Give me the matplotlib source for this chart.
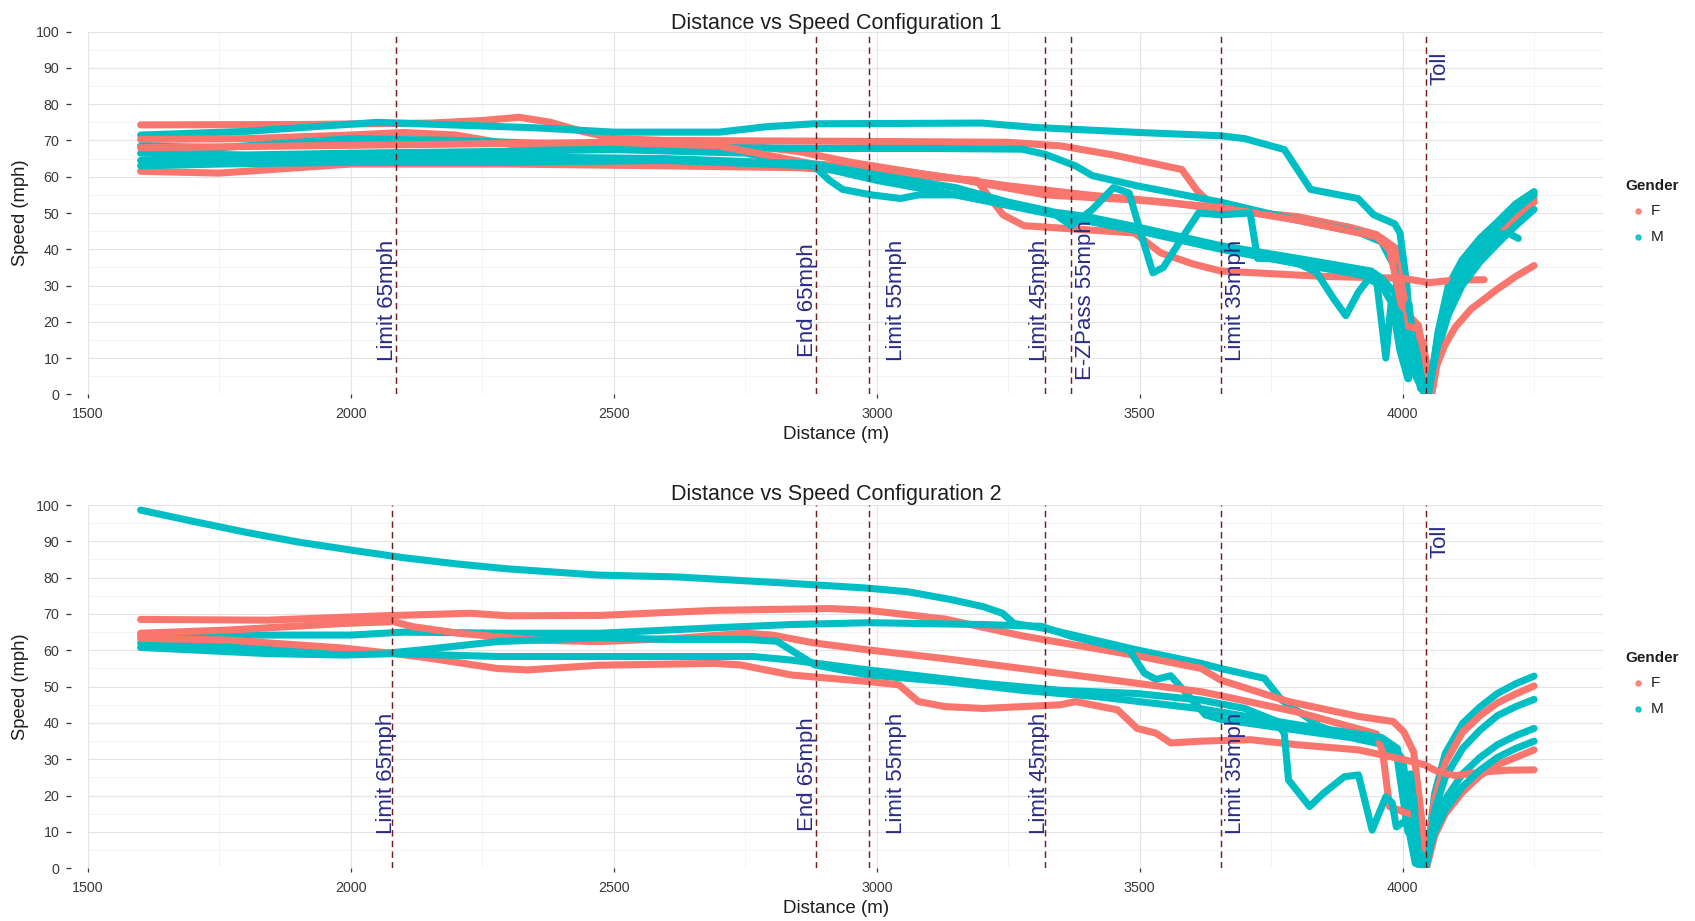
import matplotlib
matplotlib.use("Agg")
import matplotlib.pyplot as plt
from matplotlib.lines import Line2D

plt.rcParams['font.family'] = ['Liberation Sans', 'DejaVu Sans']

# ---------------------------------------------------------------------------
# Configuration 1 : distance (m) / speed (mph) per driver
# ---------------------------------------------------------------------------
C1_F1_DIST = [1600, 1900, 2150, 2250, 2320, 2380, 2440, 2500, 2600, 2900, 3250, 3350, 3450, 3580, 3610, 3640,
              3800, 3900, 3950, 3990, 4000, 4010, 4030, 4045, 4052, 4066, 4087, 4113, 4147, 4180, 4215, 4250]
C1_F1_SPEED = [74.3, 74.4, 74.8, 75.5, 76.4, 75.0, 72.5, 70.5, 70.0, 69.8, 69.5, 68.5, 66.0, 62.0, 56.0, 52.0,
               48.5, 46.0, 44.0, 40.0, 30.0, 22.0, 19.0, 5.0, 0.5, 14.0, 25.0, 33.0, 39.5, 44.5, 49.5, 54.0]

C1_F2_DIST = [1600, 1800, 2000, 2100, 2200, 2300, 2380, 2500, 2700, 2850, 2950, 3100, 3250, 3400, 3550, 3654,
              3800, 3900, 3950, 3970, 3990, 4005, 4020, 4040, 4050, 4066, 4087, 4113, 4147, 4180, 4215, 4250]
C1_F2_SPEED = [70.3, 70.5, 71.5, 72.2, 71.5, 69.0, 67.5, 68.5, 69.5, 67.0, 64.0, 60.5, 57.5, 55.0, 53.0, 51.0,
               49.0, 46.0, 44.0, 42.0, 36.0, 25.0, 18.0, 14.0, 1.0, 13.0, 24.0, 32.0, 38.5, 43.5, 48.5, 53.0]

C1_F3_DIST = [1600, 1750, 1900, 2000, 2300, 2600, 2850, 2950, 3100, 3190, 3240, 3280, 3490, 3540, 3600, 3654,
              3850, 4000, 4050, 4100, 4155]
C1_F3_SPEED = [61.5, 61.0, 62.5, 63.5, 63.5, 63.0, 62.5, 61.5, 60.0, 59.0, 49.5, 46.5, 44.5, 39.0, 36.0, 34.0,
               32.5, 32.0, 30.8, 31.5, 31.6]

C1_F4_DIST = [1600, 1900, 2200, 2500, 2700, 2880, 3000, 3150, 3320, 3500, 3654, 3800, 3900, 3950, 3975, 3990,
              4005, 4030, 4045, 4056, 4065, 4080, 4100, 4130, 4180, 4215, 4250]
C1_F4_SPEED = [68.0, 68.5, 69.0, 69.5, 68.5, 63.5, 62.5, 59.5, 55.0, 53.5, 51.5, 48.0, 45.0, 43.5, 40.0, 30.0,
               19.0, 18.0, 9.0, 0.5, 8.0, 13.5, 18.5, 23.5, 29.0, 32.5, 35.5]

C1_M1_DIST = [1600, 1800, 1950, 2050, 2150, 2350, 2500, 2700, 2790, 2880, 3200, 3300, 3500, 3654, 3700, 3775,
              3825, 3915, 3945, 3985, 3995, 4008, 4015, 4030, 4045, 4052, 4067, 4087, 4113, 4147, 4180, 4215, 4250]
C1_M1_SPEED = [71.5, 72.5, 74.0, 75.0, 74.5, 73.5, 72.3, 72.3, 73.8, 74.6, 74.8, 73.6, 72.2, 71.3, 70.5, 67.5,
               56.5, 54.0, 49.5, 47.0, 44.5, 30.0, 17.0, 12.0, 2.0, 0.5, 17.0, 30.0, 37.0, 43.0, 47.5, 52.5, 55.9]

C1_M2_DIST = [1600, 1750, 1900, 2000, 2200, 2400, 2500, 2700, 2880, 3100, 3276, 3320, 3378, 3410, 3495, 3654,
              3800, 3916, 3960, 3985, 3995, 4005, 4015, 4025, 4040, 4050, 4066, 4087, 4113, 4147, 4180, 4215, 4250]
C1_M2_SPEED = [68.5, 68.0, 69.5, 70.5, 70.0, 69.0, 68.3, 68.0, 67.8, 67.8, 67.6, 66.2, 63.0, 60.3, 57.5, 53.0,
               48.0, 44.7, 42.0, 35.0, 20.0, 12.0, 20.0, 5.0, 0.5, 0.5, 15.0, 27.0, 35.0, 41.5, 46.0, 51.0, 55.0]

C1_M3_DIST = [1600, 1800, 2000, 2300, 2500, 2750, 2880, 2910, 2935, 2990, 3045, 3080, 3150, 3300, 3400, 3500,
              3654, 3800, 3860, 3940, 3960, 3985, 3998, 4012, 4025, 4040, 4050, 4066, 4087, 4113, 4147, 4180,
              4215, 4250]
C1_M3_SPEED = [66.5, 66.0, 66.5, 67.0, 67.5, 66.5, 63.0, 59.0, 56.5, 55.0, 54.0, 55.0, 55.0, 51.0, 49.0, 46.0,
               41.0, 37.5, 36.0, 34.0, 32.0, 28.0, 12.0, 25.0, 8.0, 3.0, 0.5, 12.0, 22.0, 30.0, 36.5, 41.5,
               46.5, 51.0]

C1_M4_DIST = [1600, 1800, 2000, 2300, 2600, 2880, 3000, 3150, 3250, 3330, 3370, 3410, 3450, 3480, 3505, 3525,
              3545, 3580, 3612, 3654, 3710, 3724, 3783, 3836, 3869, 3892, 3916, 3935, 3960, 3980, 3995, 4010,
              4020, 4034, 4048, 4066, 4087, 4113, 4147, 4180, 4200, 4220]
C1_M4_SPEED = [64.5, 64.5, 65.0, 65.5, 65.0, 63.5, 60.5, 57.0, 53.0, 50.5, 46.5, 51.0, 57.0, 55.5, 43.0, 33.5,
               35.0, 43.0, 50.0, 49.5, 50.0, 37.5, 37.3, 33.7, 26.3, 21.7, 28.2, 31.8, 30.0, 25.0, 12.0, 4.3,
               15.0, 1.6, 0.5, 13.0, 24.0, 33.0, 39.5, 44.0, 44.5, 43.0]

C1_M5_DIST = [1600, 1750, 2000, 2300, 2600, 2880, 3000, 3150, 3320, 3500, 3654, 3800, 3900, 3950, 3968, 3978,
              3995, 4011, 4025, 4040, 4050, 4067, 4087, 4113, 4147, 4180, 4215, 4250]
C1_M5_SPEED = [63.0, 63.5, 64.0, 64.0, 64.5, 63.0, 59.0, 55.0, 50.0, 45.0, 40.0, 36.0, 33.5, 32.0, 10.0, 25.0,
               22.0, 4.3, 12.0, 2.0, 0.5, 16.0, 28.5, 36.0, 42.0, 46.5, 51.5, 55.5]

# ---------------------------------------------------------------------------
# Configuration 2
# ---------------------------------------------------------------------------
C2_F1_DIST = [1600, 1841, 2060, 2227, 2300, 2472, 2692, 2911, 2984, 3130, 3276, 3495, 3617, 3654, 3783, 3916,
              3982, 4002, 4021, 4035, 4044, 4061, 4081, 4114, 4147, 4180, 4215, 4250]
C2_F1_SPEED = [68.5, 68.3, 69.5, 70.2, 69.5, 69.6, 71.0, 71.5, 71.0, 68.6, 64.0, 58.5, 55.0, 51.8, 45.9, 41.8,
               40.4, 37.6, 32.0, 15.0, 0.9, 19.0, 29.0, 37.5, 42.0, 45.5, 48.0, 50.2]

C2_F2_DIST = [1600, 1769, 1987, 2081, 2118, 2205, 2350, 2472, 2619, 2750, 2801, 2882, 2984, 3130, 3276, 3422,
              3617, 3654, 3800, 3900, 3950, 3962, 3975, 4008, 4034, 4046, 4061, 4081, 4114, 4147, 4180, 4215, 4250]
C2_F2_SPEED = [64.7, 65.6, 67.4, 67.9, 66.5, 64.7, 62.8, 62.4, 63.3, 64.7, 64.2, 62.0, 60.1, 57.7, 55.0, 52.3,
               48.6, 47.5, 43.0, 39.0, 37.0, 32.0, 17.0, 15.2, 14.3, 0.5, 9.0, 15.0, 21.0, 25.5, 28.5, 30.5, 32.6]

C2_F3_DIST = [1600, 1769, 1987, 2081, 2132, 2278, 2336, 2472, 2692, 2740, 2838, 2984, 3042, 3079, 3130, 3203,
              3349, 3378, 3458, 3495, 3531, 3559, 3617, 3711, 3800, 3916, 4000, 4041, 4067, 4100, 4150, 4200, 4250]
C2_F3_SPEED = [63.3, 62.8, 60.6, 59.1, 58.2, 55.0, 54.6, 55.9, 56.4, 56.0, 53.2, 51.4, 50.5, 45.9, 44.5, 44.0,
               45.0, 45.9, 43.6, 38.5, 37.2, 34.5, 35.0, 35.4, 34.0, 32.6, 30.0, 28.5, 26.6, 25.5, 26.5, 27.0, 27.1]

C2_M1_DIST = [1600, 1700, 1800, 1900, 2000, 2100, 2200, 2300, 2472, 2620, 2840, 2984, 3060, 3140, 3203, 3239,
              3261, 3320, 3495, 3617, 3654, 3737, 3770, 3843, 3916, 3982, 4000, 4015, 4025, 4040, 4050, 4061,
              4081, 4114, 4147, 4180, 4215, 4250]
C2_M1_SPEED = [98.6, 95.5, 92.5, 89.8, 87.6, 85.5, 83.8, 82.4, 80.7, 80.2, 78.4, 77.1, 76.1, 74.0, 72.0, 70.2,
               67.4, 66.0, 60.1, 56.4, 55.0, 52.3, 46.3, 39.0, 35.5, 33.5, 30.0, 15.0, 1.5, 0.5, 8.0, 20.6,
               31.6, 39.9, 44.4, 48.1, 50.8, 52.9]

C2_M2_DIST = [1600, 1800, 2000, 2100, 2300, 2473, 2692, 2838, 2984, 3203, 3313, 3371, 3480, 3509, 3531, 3559,
              3625, 3654, 3800, 3900, 3960, 3990, 4010, 4020, 4035, 4045, 4061, 4081, 4114, 4147, 4180, 4215, 4250]
C2_M2_SPEED = [64.2, 64.2, 64.2, 65.0, 64.7, 64.7, 66.2, 67.1, 67.6, 67.1, 66.6, 63.8, 60.1, 53.7, 52.0, 53.0,
               42.2, 41.0, 38.0, 36.0, 34.5, 30.0, 10.0, 20.0, 2.0, 0.5, 16.0, 25.0, 33.0, 38.0, 42.0, 44.5, 46.5]

C2_M3_DIST = [1600, 1800, 1987, 2060, 2132, 2278, 2472, 2600, 2750, 2810, 2882, 2984, 3130, 3276, 3422, 3617,
              3654, 3800, 3960, 3990, 4005, 4015, 4030, 4045, 4061, 4081, 4114, 4147, 4180, 4215, 4250]
C2_M3_SPEED = [62.0, 61.2, 59.6, 59.1, 60.1, 62.4, 63.5, 63.0, 63.0, 62.5, 56.0, 53.2, 51.4, 49.0, 47.2, 43.9,
               43.0, 39.5, 36.0, 33.0, 20.0, 26.0, 5.0, 0.5, 12.0, 19.0, 26.0, 30.5, 34.0, 36.5, 38.5]

C2_M4_DIST = [1600, 1841, 1987, 2081, 2278, 2472, 2765, 2838, 2984, 3203, 3349, 3495, 3617, 3700, 3760, 3775,
              3783, 3823, 3849, 3889, 3916, 3942, 3968, 3980, 3988, 4008, 4024, 4040, 4061, 4081, 4114, 4147,
              4180, 4215, 4250]
C2_M4_SPEED = [60.8, 59.1, 58.7, 59.1, 58.3, 58.3, 58.3, 57.3, 54.6, 50.9, 49.0, 48.1, 46.3, 44.0, 40.5, 37.0,
               24.3, 17.0, 20.6, 25.2, 25.7, 10.5, 19.7, 18.0, 11.4, 13.3, 1.4, 0.5, 10.0, 16.0, 22.5, 27.0,
               30.5, 33.0, 35.0]

# ---------------------------------------------------------------------------
# Road signs along the route
# ---------------------------------------------------------------------------
C1_SIGN_DIST = [2085, 2885, 2985, 3320, 3369, 3654, 4044]
C1_SIGN_LABELS = ['Limit 65mph', 'End 65mph', 'Limit 55mph', 'Limit 45mph', 'E-ZPass 55mph', 'Limit 35mph', 'Toll']
C2_SIGN_DIST = [2079, 2885, 2985, 3320, 3654, 4044]
C2_SIGN_LABELS = ['Limit 65mph', 'End 65mph', 'Limit 55mph', 'Limit 45mph', 'Limit 35mph', 'Toll']

X_TICKS = [1500, 2000, 2500, 3000, 3500, 4000]
Y_TICKS = list(range(0, 101, 10))
GENDERS = ['F', 'M']

# ---------------------------------------------------------------------------
W, H, DPI = 1695, 921, 100
COLORS = {'F': '#F8766D', 'M': '#00BFC4'}
SIGN_COLOR = '#761C1C'
LABEL_COLOR = '#2A2A8A'
TEXT_DARK = '#1E1E1E'
TICK_COLOR = '#3A3A3A'

fig = plt.figure(figsize=(W / DPI, H / DPI), dpi=DPI, facecolor='white')

PANEL_L, PANEL_R = 88, 1603


def add_panel(top_px, bottom_px):
    return fig.add_axes([PANEL_L / W, 1 - bottom_px / H, (PANEL_R - PANEL_L) / W, (bottom_px - top_px) / H])


def style_axes(ax):
    ax.set_facecolor('white')
    ax.set_xlim(1500, 4381)
    ax.set_ylim(0, 100)
    for s in ax.spines.values():
        s.set_visible(False)
    ax.spines['left'].set_position(('outward', 12.2))
    ax.set_xticks(X_TICKS)
    ax.set_xticks([t + 250 for t in X_TICKS], minor=True)
    ax.set_yticks(Y_TICKS)
    ax.set_yticks([t + 5 for t in Y_TICKS[:-1]], minor=True)
    ax.grid(which='major', color='#E4E4E4', lw=0.85)
    ax.grid(which='minor', color='#F1F1F1', lw=0.55)
    ax.set_axisbelow(True)
    ax.tick_params(which='major', axis='x', length=2.9, width=0.9, color=TICK_COLOR, pad=6,
                   labelsize=10.3, labelcolor=TICK_COLOR)
    ax.tick_params(which='major', axis='y', length=3.4, width=0.9, color=TICK_COLOR, pad=5,
                   labelsize=10.3, labelcolor=TICK_COLOR)
    ax.tick_params(which='minor', length=0)


def draw_runs(ax, runs):
    for gender, dist, speed in runs:
        ax.plot(dist, speed, color=COLORS[gender], lw=5.1, solid_capstyle='round',
                solid_joinstyle='round', zorder=2)


def draw_signs(ax, dists, labels, shifts):
    for d, lab, sh in zip(dists, labels, shifts):
        ax.axvline(d, color=SIGN_COLOR, lw=1.05, ls=(0, (4.4, 2.9)), zorder=3)
        y = 90 if lab == 'Toll' else 26
        ax.text(d + sh, y, lab, rotation=90, ha='center', va='center', fontsize=16,
                color=LABEL_COLOR, zorder=4)


def draw_legend(title_px):
    fig.text(1625 / W, 1 - title_px / H, 'Gender', fontsize=11, fontweight='bold',
             color=TEXT_DARK, ha='left', va='center')
    for i, g in enumerate(GENDERS):
        yy = 1 - (title_px + 25 + 26 * i) / H
        fig.add_artist(Line2D([1638 / W], [yy], transform=fig.transFigure, marker='o', ms=3.6,
                              color=COLORS[g], alpha=0.85, lw=0))
        fig.text(1651 / W, yy, g, fontsize=11, color=TEXT_DARK, ha='left', va='center')


def panel_text(top_px, bottom_px, title, title_base_px, xlabel_base_px):
    fig.text(836 / W, 1 - title_base_px / H, title, fontsize=15.5, color=TEXT_DARK,
             ha='center', va='baseline')
    fig.text(836 / W, 1 - xlabel_base_px / H, 'Distance (m)', fontsize=13.5, color=TEXT_DARK,
             ha='center', va='baseline')
    fig.text(21 / W, 1 - (top_px + bottom_px) / 2 / H, 'Speed (mph)', fontsize=13.2, color=TEXT_DARK,
             rotation=90, ha='center', va='center')


runs_c1 = [
    ('F', C1_F1_DIST, C1_F1_SPEED),
    ('M', C1_M1_DIST, C1_M1_SPEED),
    ('F', C1_F2_DIST, C1_F2_SPEED),
    ('M', C1_M2_DIST, C1_M2_SPEED),
    ('F', C1_F3_DIST, C1_F3_SPEED),
    ('M', C1_M3_DIST, C1_M3_SPEED),
    ('F', C1_F4_DIST, C1_F4_SPEED),
    ('M', C1_M4_DIST, C1_M4_SPEED),
    ('M', C1_M5_DIST, C1_M5_SPEED),
]
runs_c2 = [
    ('M', C2_M1_DIST, C2_M1_SPEED),
    ('F', C2_F1_DIST, C2_F1_SPEED),
    ('M', C2_M2_DIST, C2_M2_SPEED),
    ('F', C2_F2_DIST, C2_F2_SPEED),
    ('M', C2_M3_DIST, C2_M3_SPEED),
    ('F', C2_F3_DIST, C2_F3_SPEED),
    ('M', C2_M4_DIST, C2_M4_SPEED),
]

# top panel
TOP1, BOT1 = 31.7, 394.3
ax1 = add_panel(TOP1, BOT1)
style_axes(ax1)
draw_runs(ax1, runs_c1)
draw_signs(ax1, C1_SIGN_DIST, C1_SIGN_LABELS, [-15, -17, 52, -11, 27, 29, 27])
panel_text(TOP1, BOT1, 'Distance vs Speed Configuration 1', 28.5, 439)
draw_legend(186)

# bottom panel
TOP2, BOT2 = 505, 868.3
ax2 = add_panel(TOP2, BOT2)
style_axes(ax2)
draw_runs(ax2, runs_c2)
draw_signs(ax2, C2_SIGN_DIST, C2_SIGN_LABELS, [-12, -17, 52, -11, 29, 27])
panel_text(TOP2, BOT2, 'Distance vs Speed Configuration 2', 500, 913)
draw_legend(658)

fig.savefig('out.png', dpi=DPI, facecolor='white')
